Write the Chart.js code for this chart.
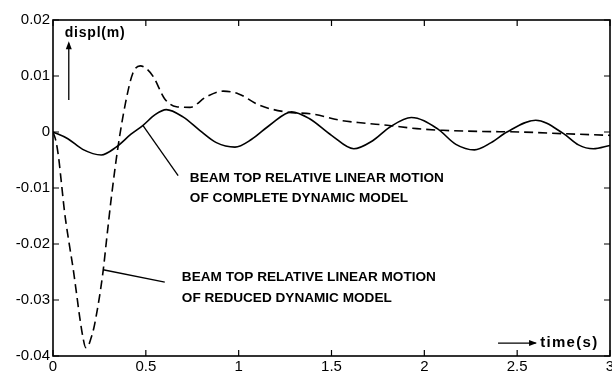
<!DOCTYPE html>
<html>
<head>
<meta charset="utf-8">
<script src="https://cdn.jsdelivr.net/npm/chart.js@4.4.1/dist/chart.umd.min.js"></script>
<style>
  html, body { margin: 0; padding: 0; background: #fff; }
  #wrap { width: 612px; height: 379px; }
</style>
</head>
<body>
<div id="wrap"><canvas id="beamChart" width="612" height="379"></canvas></div>
<script>
// complete dynamic model (solid)
const timeComplete  = [0, 0.08, 0.16, 0.26, 0.34, 0.42, 0.485, 0.55, 0.61, 0.7, 0.79, 0.88, 0.98, 1.07, 1.17, 1.285, 1.38, 1.5, 1.62, 1.72, 1.815, 1.93, 2.07, 2.17, 2.27, 2.36, 2.445, 2.6, 2.75, 2.83, 2.91, 3.0];
const displComplete = [0, -0.0012, -0.0031, -0.0041, -0.0027, -0.0004, 0.0012, 0.0031, 0.004, 0.0027, 0.0003, -0.0019, -0.0027, -0.0013, 0.0013, 0.0036, 0.0024, -0.0006, -0.003, -0.0016, 0.0009, 0.0026, 0.0006, -0.0022, -0.0032, -0.0019, 0, 0.0021, -0.0003, -0.0023, -0.003, -0.0024];

// reduced dynamic model (dashed)
const timeReduced  = [0, 0.015, 0.03, 0.045, 0.063, 0.085, 0.108, 0.127, 0.144, 0.162, 0.176, 0.19, 0.205, 0.22, 0.234, 0.25, 0.27, 0.29, 0.315, 0.35, 0.39, 0.43, 0.47, 0.5, 0.54, 0.6, 0.665, 0.737, 0.827, 0.917, 1.0, 1.11, 1.25, 1.4, 1.545, 1.67, 1.8, 1.96, 2.1, 2.3, 2.52, 2.75, 3.0];
const displReduced = [0, -0.0015, -0.0045, -0.009, -0.0145, -0.0195, -0.0243, -0.0289, -0.0331, -0.0368, -0.0385, -0.0382, -0.0368, -0.035, -0.0326, -0.0295, -0.0248, -0.0188, -0.0115, -0.0027, 0.0051, 0.0105, 0.0118, 0.0114, 0.0099, 0.006, 0.0045, 0.0044, 0.0063, 0.0073, 0.0068, 0.0048, 0.0036, 0.0032, 0.0021, 0.0016, 0.0012, 0.0006, 0.0003, 0.0001, 0, -0.0003, -0.0006];

// tick labels
const xTicks = [0, 0.5, 1, 1.5, 2, 2.5, 3];
const yTicks = [0.02, 0.01, 0, -0.01, -0.02, -0.03, -0.04];

const labelLines = ['BEAM TOP RELATIVE LINEAR MOTION', 'OF COMPLETE DYNAMIC MODEL', 'OF REDUCED DYNAMIC MODEL'];

const toPoints = (xs, ys) => xs.map((x, i) => ({ x: x, y: ys[i] }));

// frame, inward ticks and the hand-drawn annotations
const framePlugin = {
  id: 'frame',
  afterDraw(chart) {
    const { ctx, chartArea: a, scales: { x, y } } = chart;
    ctx.save();
    ctx.strokeStyle = '#000';
    ctx.lineWidth = 1.6;
    ctx.strokeRect(a.left, a.top, a.right - a.left, a.bottom - a.top);

    ctx.lineWidth = 1.2;
    ctx.beginPath();
    xTicks.forEach(v => {
      const px = x.getPixelForValue(v);
      ctx.moveTo(px, a.bottom); ctx.lineTo(px, a.bottom - 6);
      ctx.moveTo(px, a.top); ctx.lineTo(px, a.top + 6);
    });
    yTicks.forEach(v => {
      const py = y.getPixelForValue(v);
      ctx.moveTo(a.left, py); ctx.lineTo(a.left + 6, py);
      ctx.moveTo(a.right, py); ctx.lineTo(a.right - 6, py);
    });
    ctx.stroke();

    const P = (tx, vy) => [x.getPixelForValue(tx), y.getPixelForValue(vy)];
    const line = (p, q) => { ctx.beginPath(); ctx.moveTo(p[0], p[1]); ctx.lineTo(q[0], q[1]); ctx.stroke(); };
    const arrowHead = (tip, dir) => {
      ctx.beginPath();
      if (dir === 'up') {
        ctx.moveTo(tip[0], tip[1]); ctx.lineTo(tip[0] - 3, tip[1] + 8); ctx.lineTo(tip[0] + 3, tip[1] + 8);
      } else {
        ctx.moveTo(tip[0], tip[1]); ctx.lineTo(tip[0] - 8, tip[1] - 3); ctx.lineTo(tip[0] - 8, tip[1] + 3);
      }
      ctx.closePath(); ctx.fill();
    };

    ctx.fillStyle = '#000';
    ctx.lineWidth = 1.3;

    // y axis name with arrow
    line(P(0.085, 0.0057), P(0.085, 0.0158));
    arrowHead(P(0.085, 0.0162), 'up');
    // x axis name with arrow
    line(P(2.397, -0.0377), P(2.6, -0.0377));
    arrowHead(P(2.607, -0.0377), 'right');

    // leader lines
    line(P(0.484, 0.0012), P(0.674, -0.0078));
    line(P(0.27, -0.0246), P(0.602, -0.0268));

    ctx.textBaseline = 'middle';
    ctx.textAlign = 'left';
    ctx.font = 'bold 14px "Liberation Sans", Arial, sans-serif';
    ctx.letterSpacing = '0.8px';
    let p = P(0.063, 0.0176); ctx.fillText('displ(m)', p[0], p[1]);
    ctx.font = 'bold 15px "Liberation Sans", Arial, sans-serif';
    ctx.letterSpacing = '1.3px';
    p = P(2.624, -0.0377); ctx.fillText('time(s)', p[0], p[1]);

    ctx.letterSpacing = '0px';
    ctx.font = 'bold 13.6px "Liberation Sans Narrow", "Liberation Sans", Arial, sans-serif';
    p = P(0.737, -0.0082); ctx.fillText(labelLines[0], p[0], p[1]);
    p = P(0.737, -0.0118); ctx.fillText(labelLines[1], p[0], p[1]);
    p = P(0.694, -0.0259); ctx.fillText(labelLines[0], p[0], p[1]);
    p = P(0.694, -0.0297); ctx.fillText(labelLines[2], p[0], p[1]);
    ctx.restore();
  }
};

const tickFont = { family: '"Liberation Sans", Arial, sans-serif', size: 15 };

new Chart(document.getElementById('beamChart').getContext('2d'), {
  type: 'line',
  data: {
    datasets: [{
      label: 'complete',
      data: toPoints(timeComplete, displComplete),
      borderColor: '#000',
      borderWidth: 1.6,
      pointRadius: 0,
      cubicInterpolationMode: 'monotone'
    }, {
      label: 'reduced',
      data: toPoints(timeReduced, displReduced),
      borderColor: '#000',
      borderWidth: 1.6,
      borderDash: [9, 5],
      pointRadius: 0,
      cubicInterpolationMode: 'monotone'
    }]
  },
  options: {
    responsive: false,
    animation: false,
    layout: { padding: { top: 20, right: 0, left: 0, bottom: 0 } },
    plugins: { legend: { display: false }, tooltip: { enabled: false } },
    scales: {
      x: {
        type: 'linear',
        min: 0, max: 3,
        afterBuildTicks: s => { s.ticks = xTicks.map(v => ({ value: v })); },
        ticks: { color: '#000', font: tickFont, padding: 2, maxRotation: 0, callback: v => String(v) },
        grid: { display: false, drawTicks: false },
        border: { display: false },
        afterFit: s => { s.height = 23; s.paddingRight = 2; }
      },
      y: {
        type: 'linear',
        min: -0.04, max: 0.02,
        afterBuildTicks: s => { s.ticks = yTicks.map(v => ({ value: v })); },
        ticks: { color: '#000', font: tickFont, padding: 3, callback: v => String(+v.toFixed(2)) },
        grid: { display: false, drawTicks: false },
        border: { display: false },
        afterFit: s => { s.width = 53; }
      }
    }
  },
  plugins: [framePlugin]
});
</script>
</body>
</html>
